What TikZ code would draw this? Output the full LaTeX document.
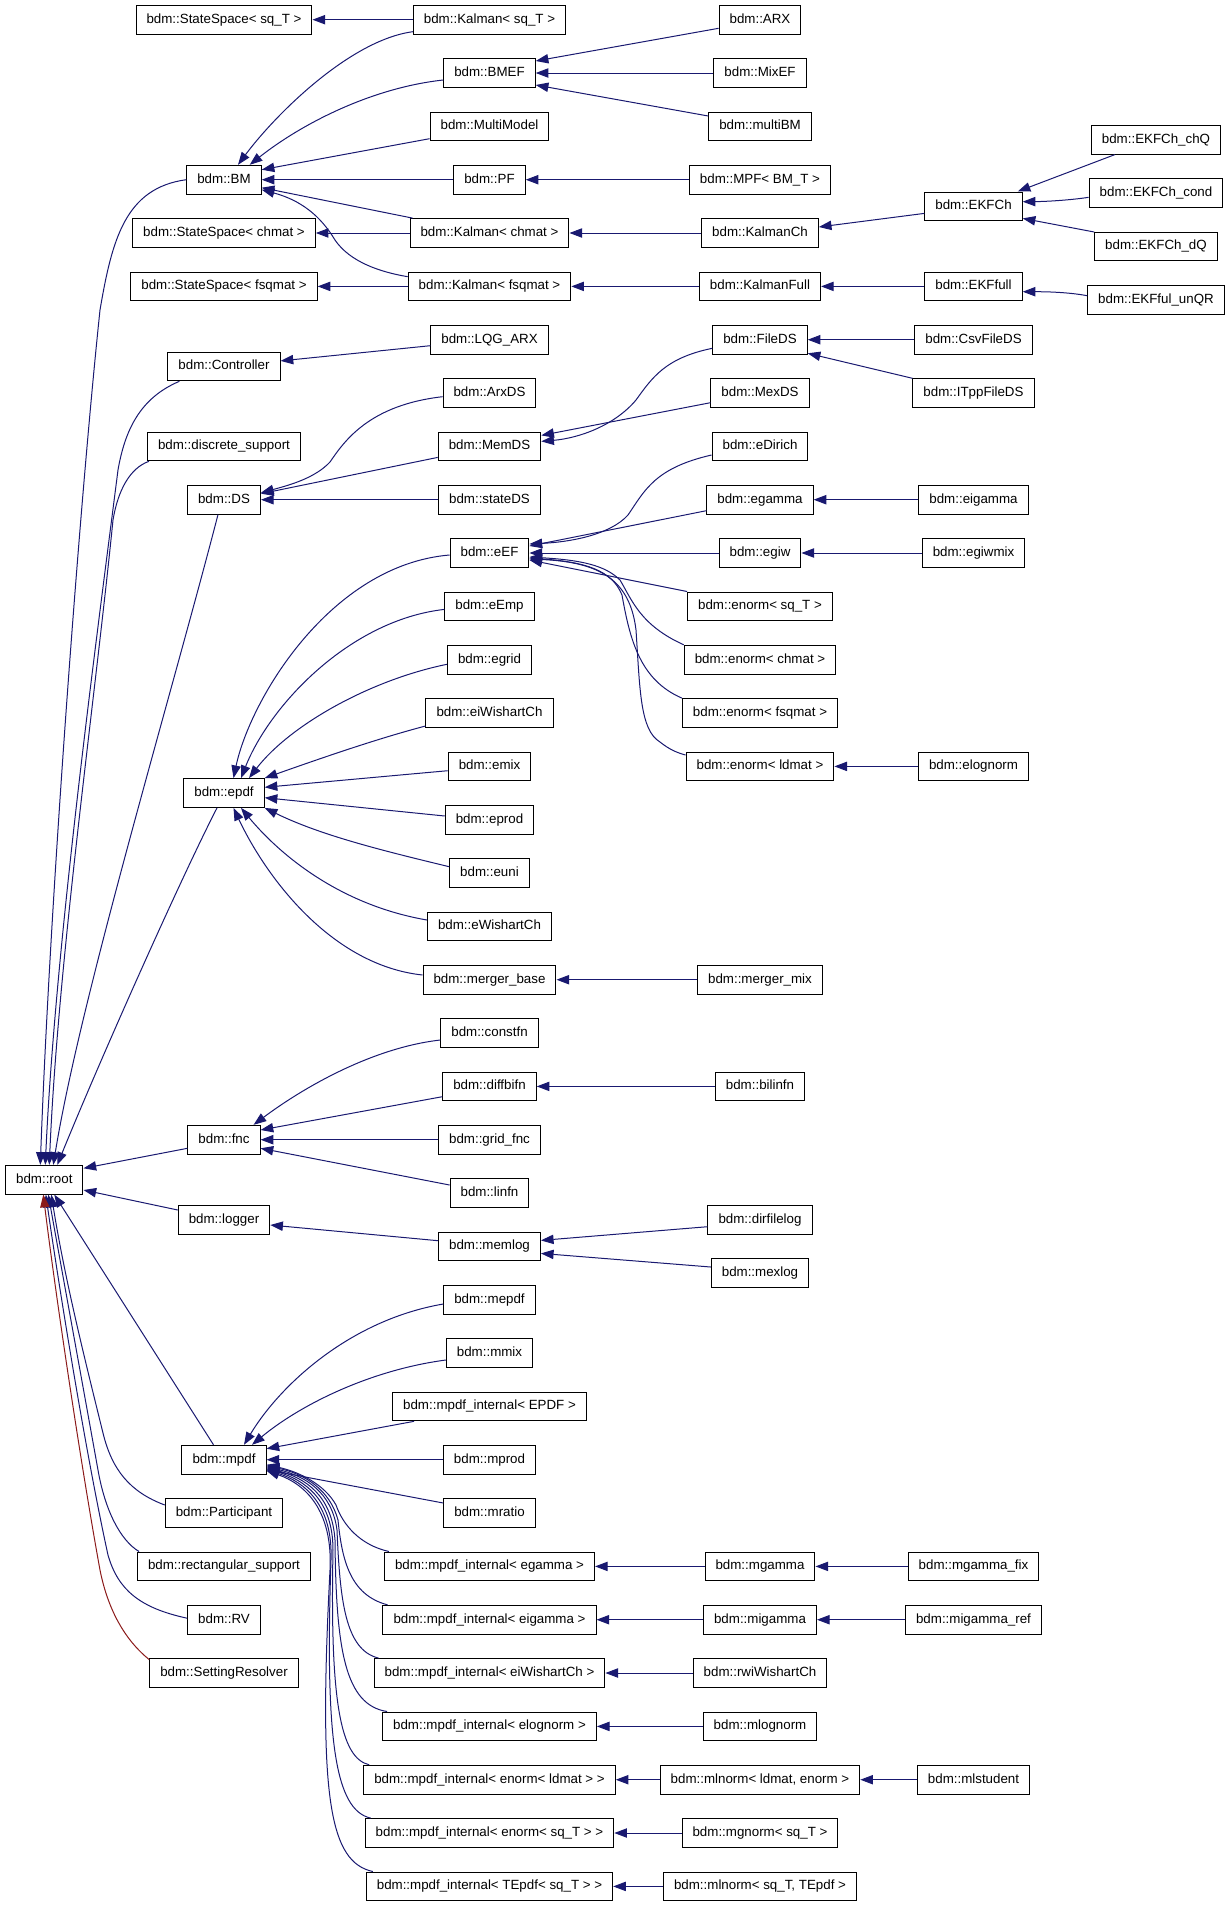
\documentclass[tikz,border=0pt]{standalone}
\usepackage{fontspec}
\setmainfont{Liberation Sans}
\usetikzlibrary{arrows.meta,calc}
\definecolor{mblue}{HTML}{191970}
\definecolor{fred}{HTML}{8B1A1A}
\begin{document}
\begin{tikzpicture}[x=0.75pt,y=-0.75pt,
  cls/.style={draw=black,line width=0.75pt,fill=white,inner xsep=7.9pt,inner ysep=0pt,
    minimum height=21.6pt,text height=7.4pt,text depth=2.1pt,font=\fontsize{10}{12}\selectfont},
  inh/.style={draw=mblue,line width=0.75pt,arrows={Triangle[length=9.5pt,width=7pt,fill=mblue]-}},
  priv/.style={draw=fred,line width=0.75pt,arrows={Triangle[length=9.5pt,width=7pt,fill=fred]-}}]
\useasboundingbox (0,0) rectangle (1229,1907);
% rank 0
\node[cls] (root) at (44.3,1179.7) {bdm::root};
% rank 1
\node[cls] (ss_sq) at (224,19.7) {bdm::StateSpace< sq\_T >};
\node[cls] (BM) at (224,179.7) {bdm::BM};
\node[cls] (ss_ch) at (224,233.0) {bdm::StateSpace< chmat >};
\node[cls] (ss_fs) at (224,286.4) {bdm::StateSpace< fsqmat >};
\node[cls] (Controller) at (224,366.4) {bdm::Controller};
\node[cls] (dsup) at (224,446.4) {bdm::discrete\_support};
\node[cls] (DS) at (224,499.7) {bdm::DS};
\node[cls] (epdf) at (224,793.0) {bdm::epdf};
\node[cls] (fnc) at (224,1139.7) {bdm::fnc};
\node[cls] (logger) at (224,1219.7) {bdm::logger};
\node[cls] (mpdf) at (224,1459.7) {bdm::mpdf};
\node[cls] (Participant) at (224,1513.0) {bdm::Participant};
\node[cls] (rsup) at (224,1566.4) {bdm::rectangular\_support};
\node[cls] (RV) at (224,1619.7) {bdm::RV};
\node[cls] (SettingResolver) at (224,1673.0) {bdm::SettingResolver};
% rank 2
\node[cls] (k_sq) at (489.5,19.7) {bdm::Kalman< sq\_T >};
\node[cls] (BMEF) at (489.5,73.0) {bdm::BMEF};
\node[cls] (MultiModel) at (489.5,126.4) {bdm::MultiModel};
\node[cls] (PF) at (489.5,179.7) {bdm::PF};
\node[cls] (k_ch) at (489.5,233.0) {bdm::Kalman< chmat >};
\node[cls] (k_fs) at (489.5,286.4) {bdm::Kalman< fsqmat >};
\node[cls] (LQG) at (489.5,339.7) {bdm::LQG\_ARX};
\node[cls] (ArxDS) at (489.5,393.0) {bdm::ArxDS};
\node[cls] (MemDS) at (489.5,446.4) {bdm::MemDS};
\node[cls] (stateDS) at (489.5,499.7) {bdm::stateDS};
\node[cls] (eEF) at (489.5,553.0) {bdm::eEF};
\node[cls] (eEmp) at (489.5,606.4) {bdm::eEmp};
\node[cls] (egrid) at (489.5,659.7) {bdm::egrid};
\node[cls] (eiWishartCh) at (489.5,713.0) {bdm::eiWishartCh};
\node[cls] (emix) at (489.5,766.4) {bdm::emix};
\node[cls] (eprod) at (489.5,819.7) {bdm::eprod};
\node[cls] (euni) at (489.5,873.0) {bdm::euni};
\node[cls] (eWishartCh) at (489.5,926.4) {bdm::eWishartCh};
\node[cls] (merger_base) at (489.5,979.7) {bdm::merger\_base};
\node[cls] (constfn) at (489.5,1033.0) {bdm::constfn};
\node[cls] (diffbifn) at (489.5,1086.4) {bdm::diffbifn};
\node[cls] (grid_fnc) at (489.5,1139.7) {bdm::grid\_fnc};
\node[cls] (linfn) at (489.5,1193.0) {bdm::linfn};
\node[cls] (memlog) at (489.5,1246.4) {bdm::memlog};
\node[cls] (mepdf) at (489.5,1299.7) {bdm::mepdf};
\node[cls] (mmix) at (489.5,1353.0) {bdm::mmix};
\node[cls] (mi_EPDF) at (489.5,1406.4) {bdm::mpdf\_internal< EPDF >};
\node[cls] (mprod) at (489.5,1459.7) {bdm::mprod};
\node[cls] (mratio) at (489.5,1513.0) {bdm::mratio};
\node[cls] (mi_egamma) at (489.5,1566.4) {bdm::mpdf\_internal< egamma >};
\node[cls] (mi_eigamma) at (489.5,1619.7) {bdm::mpdf\_internal< eigamma >};
\node[cls] (mi_eiW) at (489.5,1673.0) {bdm::mpdf\_internal< eiWishartCh >};
\node[cls] (mi_elog) at (489.5,1726.4) {bdm::mpdf\_internal< elognorm >};
\node[cls] (mi_ldmat) at (489.5,1779.7) {bdm::mpdf\_internal< enorm< ldmat > >};
\node[cls] (mi_sqT) at (489.5,1833.0) {bdm::mpdf\_internal< enorm< sq\_T > >};
\node[cls] (mi_TE) at (489.5,1886.4) {bdm::mpdf\_internal< TEpdf< sq\_T > >};
% rank 3
\node[cls] (ARX) at (760,19.7) {bdm::ARX};
\node[cls] (MixEF) at (760,73.0) {bdm::MixEF};
\node[cls] (multiBM) at (760,126.4) {bdm::multiBM};
\node[cls] (MPF) at (760,179.7) {bdm::MPF< BM\_T >};
\node[cls] (KalmanCh) at (760,233.0) {bdm::KalmanCh};
\node[cls] (KalmanFull) at (760,286.4) {bdm::KalmanFull};
\node[cls] (FileDS) at (760,339.7) {bdm::FileDS};
\node[cls] (MexDS) at (760,393.0) {bdm::MexDS};
\node[cls] (eDirich) at (760,446.4) {bdm::eDirich};
\node[cls] (egamma) at (760,499.7) {bdm::egamma};
\node[cls] (egiw) at (760,553.0) {bdm::egiw};
\node[cls] (en_sq) at (760,606.4) {bdm::enorm< sq\_T >};
\node[cls] (en_ch) at (760,659.7) {bdm::enorm< chmat >};
\node[cls] (en_fs) at (760,713.0) {bdm::enorm< fsqmat >};
\node[cls] (en_ld) at (760,766.4) {bdm::enorm< ldmat >};
\node[cls] (merger_mix) at (760,979.7) {bdm::merger\_mix};
\node[cls] (bilinfn) at (760,1086.4) {bdm::bilinfn};
\node[cls] (dirfilelog) at (760,1219.7) {bdm::dirfilelog};
\node[cls] (mexlog) at (760,1273.0) {bdm::mexlog};
\node[cls] (mgamma) at (760,1566.4) {bdm::mgamma};
\node[cls] (migamma) at (760,1619.7) {bdm::migamma};
\node[cls] (rwiWishartCh) at (760,1673.0) {bdm::rwiWishartCh};
\node[cls] (mlognorm) at (760,1726.4) {bdm::mlognorm};
\node[cls] (mlnorm_ld) at (760,1779.7) {bdm::mlnorm< ldmat, enorm >};
\node[cls] (mgnorm) at (760,1833.0) {bdm::mgnorm< sq\_T >};
\node[cls] (mlnorm_sq) at (760,1886.4) {bdm::mlnorm< sq\_T, TEpdf >};
% rank 4
\node[cls] (EKFCh) at (973.5,206.4) {bdm::EKFCh};
\node[cls] (EKFfull) at (973.5,286.4) {bdm::EKFfull};
\node[cls] (CsvFileDS) at (973.5,339.7) {bdm::CsvFileDS};
\node[cls] (ITppFileDS) at (973.5,393.0) {bdm::ITppFileDS};
\node[cls] (eigamma) at (973.5,499.7) {bdm::eigamma};
\node[cls] (egiwmix) at (973.5,553.0) {bdm::egiwmix};
\node[cls] (elognorm) at (973.5,766.4) {bdm::elognorm};
\node[cls] (mgamma_fix) at (973.5,1566.4) {bdm::mgamma\_fix};
\node[cls] (migamma_ref) at (973.5,1619.7) {bdm::migamma\_ref};
\node[cls] (mlstudent) at (973.5,1779.7) {bdm::mlstudent};
% rank 5
\node[cls] (EKFCh_chQ) at (1156,139.7) {bdm::EKFCh\_chQ};
\node[cls] (EKFCh_cond) at (1156,193.0) {bdm::EKFCh\_cond};
\node[cls] (EKFCh_dQ) at (1156,246.4) {bdm::EKFCh\_dQ};
\node[cls] (EKFful_unQR) at (1156,299.7) {bdm::EKFful\_unQR};

% ---------- horizontal inheritance edges
\draw[inh] (ss_sq.east) -- (k_sq.west);
\draw[inh] (BM.east) -- (PF.west);
\draw[inh] (ss_ch.east) -- (k_ch.west);
\draw[inh] (ss_fs.east) -- (k_fs.west);
\draw[inh] (BMEF.east) -- (MixEF.west);
\draw[inh] (PF.east) -- (MPF.west);
\draw[inh] (k_ch.east) -- (KalmanCh.west);
\draw[inh] (k_fs.east) -- (KalmanFull.west);
\draw[inh] (KalmanFull.east) -- (EKFfull.west);
\draw[inh] (FileDS.east) -- (CsvFileDS.west);
\draw[inh] (DS.east) -- (stateDS.west);
\draw[inh] (egamma.east) -- (eigamma.west);
\draw[inh] (eEF.east) -- (egiw.west);
\draw[inh] (egiw.east) -- (egiwmix.west);
\draw[inh] (en_ld.east) -- (elognorm.west);
\draw[inh] (merger_base.east) -- (merger_mix.west);
\draw[inh] (diffbifn.east) -- (bilinfn.west);
\draw[inh] (fnc.east) -- (grid_fnc.west);
\draw[inh] (mpdf.east) -- (mprod.west);
\draw[inh] (mi_egamma.east) -- (mgamma.west);
\draw[inh] (mgamma.east) -- (mgamma_fix.west);
\draw[inh] (mi_eigamma.east) -- (migamma.west);
\draw[inh] (migamma.east) -- (migamma_ref.west);
\draw[inh] (mi_eiW.east) -- (rwiWishartCh.west);
\draw[inh] (mi_elog.east) -- (mlognorm.west);
\draw[inh] (mi_ldmat.east) -- (mlnorm_ld.west);
\draw[inh] (mlnorm_ld.east) -- (mlstudent.west);
\draw[inh] (mi_sqT.east) -- (mgnorm.west);
\draw[inh] (mi_TE.east) -- (mlnorm_sq.west);

% ---------- straight diagonal edges
\draw[inh] ($(BMEF.east)+(0,-12)$) -- ($(ARX.west)+(0,8.6)$);
\draw[inh] ($(BMEF.east)+(0,12)$) -- ($(multiBM.west)+(0,-10.4)$);
\draw[inh] ($(BM.east)+(0,-10)$) -- ($(MultiModel.west)+(0,12.3)$);
\draw[inh] ($(BM.east)+(0,8)$) -- ($(k_ch.north west)+(3,0)$);
\draw[inh] ($(Controller.east)+(0,-5.5)$) -- ($(LQG.west)+(0,6)$);
\draw[inh] ($(DS.east)+(0,-6)$) -- ($(MemDS.west)+(0,11)$);
\draw[inh] ($(MemDS.east)+(0,-11)$) -- ($(MexDS.west)+(0,9.7)$);
\draw[inh] ($(KalmanCh.east)+(0,-6)$) -- ($(EKFCh.west)+(0,7)$);
\draw[inh] ($(EKFCh.north east)+(-5,0)$) -- ($(EKFCh_chQ.south west)+(24,0)$);
\draw[inh] ($(EKFCh.east)+(0,-4.7)$) .. controls (1050,201.5) and (1075,199.5) .. ($(EKFCh_cond.west)+(0,4.3)$);
\draw[inh] ($(EKFCh.east)+(0,12)$) -- ($(EKFCh_dQ.north west)+(0,0.5)$);
\draw[inh] ($(EKFfull.east)+(0,5.3)$) .. controls (1050,291.7) and (1070,292.5) .. ($(EKFful_unQR.west)+(0,-4)$);
\draw[inh] ($(FileDS.east)+(0,13.6)$) -- ($(ITppFileDS.north west)+(0,0.2)$);
\draw[inh] ($(eEF.east)+(0,-7)$) -- ($(egamma.west)+(0,11)$);
\draw[inh] ($(eEF.east)+(0,7)$) -- ($(en_sq.north west)+(0,0)$);
\draw[inh] ($(epdf.east)+(0,-5.7)$) -- ($(emix.west)+(0,4.3)$);
\draw[inh] ($(epdf.east)+(0,4.7)$) -- ($(eprod.west)+(0,-3.7)$);
\draw[inh] ($(fnc.east)+(0,-9.7)$) -- ($(diffbifn.west)+(0,10.3)$);
\draw[inh] ($(fnc.east)+(0,8.6)$) -- ($(linfn.west)+(0,-8)$);
\draw[inh] ($(root.east)+(0,-11.4)$) -- ($(fnc.west)+(0,8.6)$);
\draw[inh] ($(root.east)+(0,10.3)$) -- ($(logger.west)+(0,-9.7)$);
\draw[inh] ($(logger.east)+(0,5.3)$) -- ($(memlog.west)+(0,-5.7)$);
\draw[inh] ($(memlog.east)+(0,-6)$) -- ($(dirfilelog.west)+(0,7)$);
\draw[inh] ($(memlog.east)+(0,7)$) -- ($(mexlog.west)+(0,-6)$);
\draw[inh] ($(root.south)+(10,0)$) -- ($(mpdf.north)+(-10.5,0)$);
\draw[inh] ($(mpdf.east)+(0,-11)$) -- ($(mi_EPDF.south west)+(22,0)$);
\draw[inh] ($(mpdf.east)+(0,10)$) -- ($(mratio.west)+(0,-10)$);

% ---------- curved edges, top part
\draw[inh] ($(BM.north)+(14,0)$) .. controls (275,115) and (350,40) .. ($(k_sq.west)+(0,12)$);
\draw[inh] ($(BM.north east)+(-12,0)$) .. controls (300,125) and (370,88) .. ($(BMEF.west)+(0,7)$);
\draw[inh] ($(BM.east)+(0,10)$) .. controls (300,200) and (320,215) .. (335,240) .. controls (350,262) and (380,272) .. ($(k_fs.west)+(0,-9.7)$);
\draw[inh] ($(DS.east)+(0,-7)$) .. controls (290,485) and (315,478) .. (330,462) .. controls (345,440) and (370,405) .. ($(ArxDS.west)+(0,3.7)$);
\draw[inh] ($(MemDS.east)+(0,-5)$) .. controls (580,438) and (615,425) .. (636,400) .. controls (652,378) and (665,358) .. ($(FileDS.west)+(0,8.6)$);
\draw[inh] ($(eEF.east)+(0,-9)$) .. controls (570,542) and (610,535) .. (628,515) .. controls (645,490) and (655,468) .. ($(eDirich.west)+(0,8.6)$);
\draw[inh] ($(eEF.east)+(0,4)$) .. controls (580,560) and (605,565) .. (620,580) .. controls (632,600) and (640,625) .. ($(en_ch.north west)+(0,0)$);
\draw[inh] ($(eEF.east)+(0,5)$) .. controls (585,562) and (612,570) .. (622,595) .. controls (630,640) and (640,680) .. ($(en_fs.north west)+(0,0)$);
\draw[inh] ($(eEF.east)+(0,6)$) .. controls (600,562) and (630,580) .. (636,630) .. controls (640,690) and (640,730) .. (660,742) .. controls (670,750) and (678,753) .. ($(en_ld.west)+(0,-11.4)$);

% ---------- epdf fan
\draw[inh] ($(epdf.north)+(9.5,0)$) .. controls (250,700) and (330,565) .. ($(eEF.west)+(0,2)$);
\draw[inh] ($(epdf.north)+(17,0)$) .. controls (270,705) and (350,620) .. ($(eEmp.west)+(0,3)$);
\draw[inh] ($(epdf.north)+(25,0)$) .. controls (290,725) and (370,680) .. ($(egrid.west)+(0,4.6)$);
\draw[inh] (epdf.north east) .. controls (330,755) and (380,738) .. ($(eiWishartCh.west)+(0,13)$);
\draw[inh] (epdf.south east) .. controls (320,835) and (380,850) .. ($(euni.west)+(0,-6.3)$);
\draw[inh] ($(epdf.south)+(17,0)$) .. controls (280,855) and (340,905) .. ($(eWishartCh.west)+(0,-6.4)$);
\draw[inh] ($(epdf.south)+(9.5,0)$) .. controls (265,875) and (330,965) .. ($(merger_base.west)+(0,-4.7)$);

% ---------- fnc / mpdf curves
\draw[inh] ($(fnc.north east)+(-7,0)$) .. controls (300,1090) and (370,1048) .. ($(constfn.west)+(0,7)$);
\draw[inh] ($(mpdf.north)+(20,0)$) .. controls (280,1385) and (350,1320) .. ($(mepdf.west)+(0,4.3)$);
\draw[inh] ($(mpdf.north)+(28,0)$) .. controls (300,1405) and (370,1370) .. ($(mmix.west)+(0,7)$);
\draw[inh] ($(mpdf.east)+(0,5)$) .. controls (300,1472) and (325,1485) .. (336,1505) .. controls (343,1525) and (360,1545) .. ($(mi_egamma.north west)+(5,0)$);
\draw[inh] ($(mpdf.east)+(0,6)$) .. controls (305,1474) and (330,1490) .. (338,1520) .. controls (342,1560) and (350,1595) .. ($(mi_eigamma.north west)+(5,0)$);
\draw[inh] ($(mpdf.east)+(0,7)$) .. controls (305,1476) and (332,1492) .. (337,1530) .. controls (340,1600) and (345,1650) .. ($(mi_eiW.north west)+(5,0)$);
\draw[inh] ($(mpdf.east)+(0,8)$) .. controls (305,1478) and (332,1495) .. (335,1540) .. controls (336,1650) and (345,1705) .. ($(mi_elog.north west)+(5,0)$);
\draw[inh] ($(mpdf.east)+(0,9)$) .. controls (305,1480) and (333,1500) .. (333,1550) .. controls (330,1700) and (340,1758) .. ($(mi_ldmat.north west)+(6,0)$);
\draw[inh] ($(mpdf.east)+(0,10)$) .. controls (305,1482) and (333,1505) .. (331,1560) .. controls (325,1740) and (335,1810) .. ($(mi_sqT.north west)+(6,0)$);
\draw[inh] ($(mpdf.east)+(0,11)$) .. controls (305,1484) and (333,1510) .. (330,1570) .. controls (318,1800) and (330,1862) .. ($(mi_TE.north west)+(7,0)$);

% ---------- edges into root (top)
\draw[inh] ($(root.north)+(-4,0)$) .. controls (50,900) and (80,500) .. (100,310) .. controls (112,240) and (125,188) .. (BM.west);
\draw[inh] ($(root.north)+(1,0)$) .. controls (55,950) and (95,650) .. (118,470) .. controls (125,430) and (140,398) .. ($(Controller.south west)+(12,0)$);
\draw[inh] ($(root.north)+(5,0)$) .. controls (58,960) and (95,700) .. (113,520) .. controls (118,490) and (130,468) .. ($(dsup.south west)+(2,0)$);
\draw[inh] ($(root.north)+(9,0)$) .. controls (80,1000) and (170,700) .. ($(DS.south)+(-6,0)$);
\draw[inh] ($(root.north)+(13,0)$) .. controls (100,1060) and (180,880) .. ($(epdf.south)+(-7,0)$);
% ---------- edges into root (bottom)
\draw[inh] ($(root.south)+(7,0)$) .. controls (65,1280) and (85,1360) .. (103,1433) .. controls (112,1470) and (130,1492) .. ($(Participant.west)+(0,-8)$);
\draw[inh] ($(root.south)+(4,0)$) .. controls (60,1260) and (80,1370) .. (98,1470) .. controls (105,1510) and (120,1540) .. ($(rsup.north west)+(2,0)$);
\draw[inh] ($(root.south)+(1.5,0)$) .. controls (58,1280) and (85,1450) .. (108,1555) .. controls (118,1590) and (140,1608) .. ($(RV.west)+(0,-1.5)$);
\draw[priv] ($(root.south)+(-1,0)$) .. controls (55,1290) and (80,1460) .. (100,1570) .. controls (108,1610) and (125,1640) .. ($(SettingResolver.north west)+(0,1.5)$);
\end{tikzpicture}
\end{document}
